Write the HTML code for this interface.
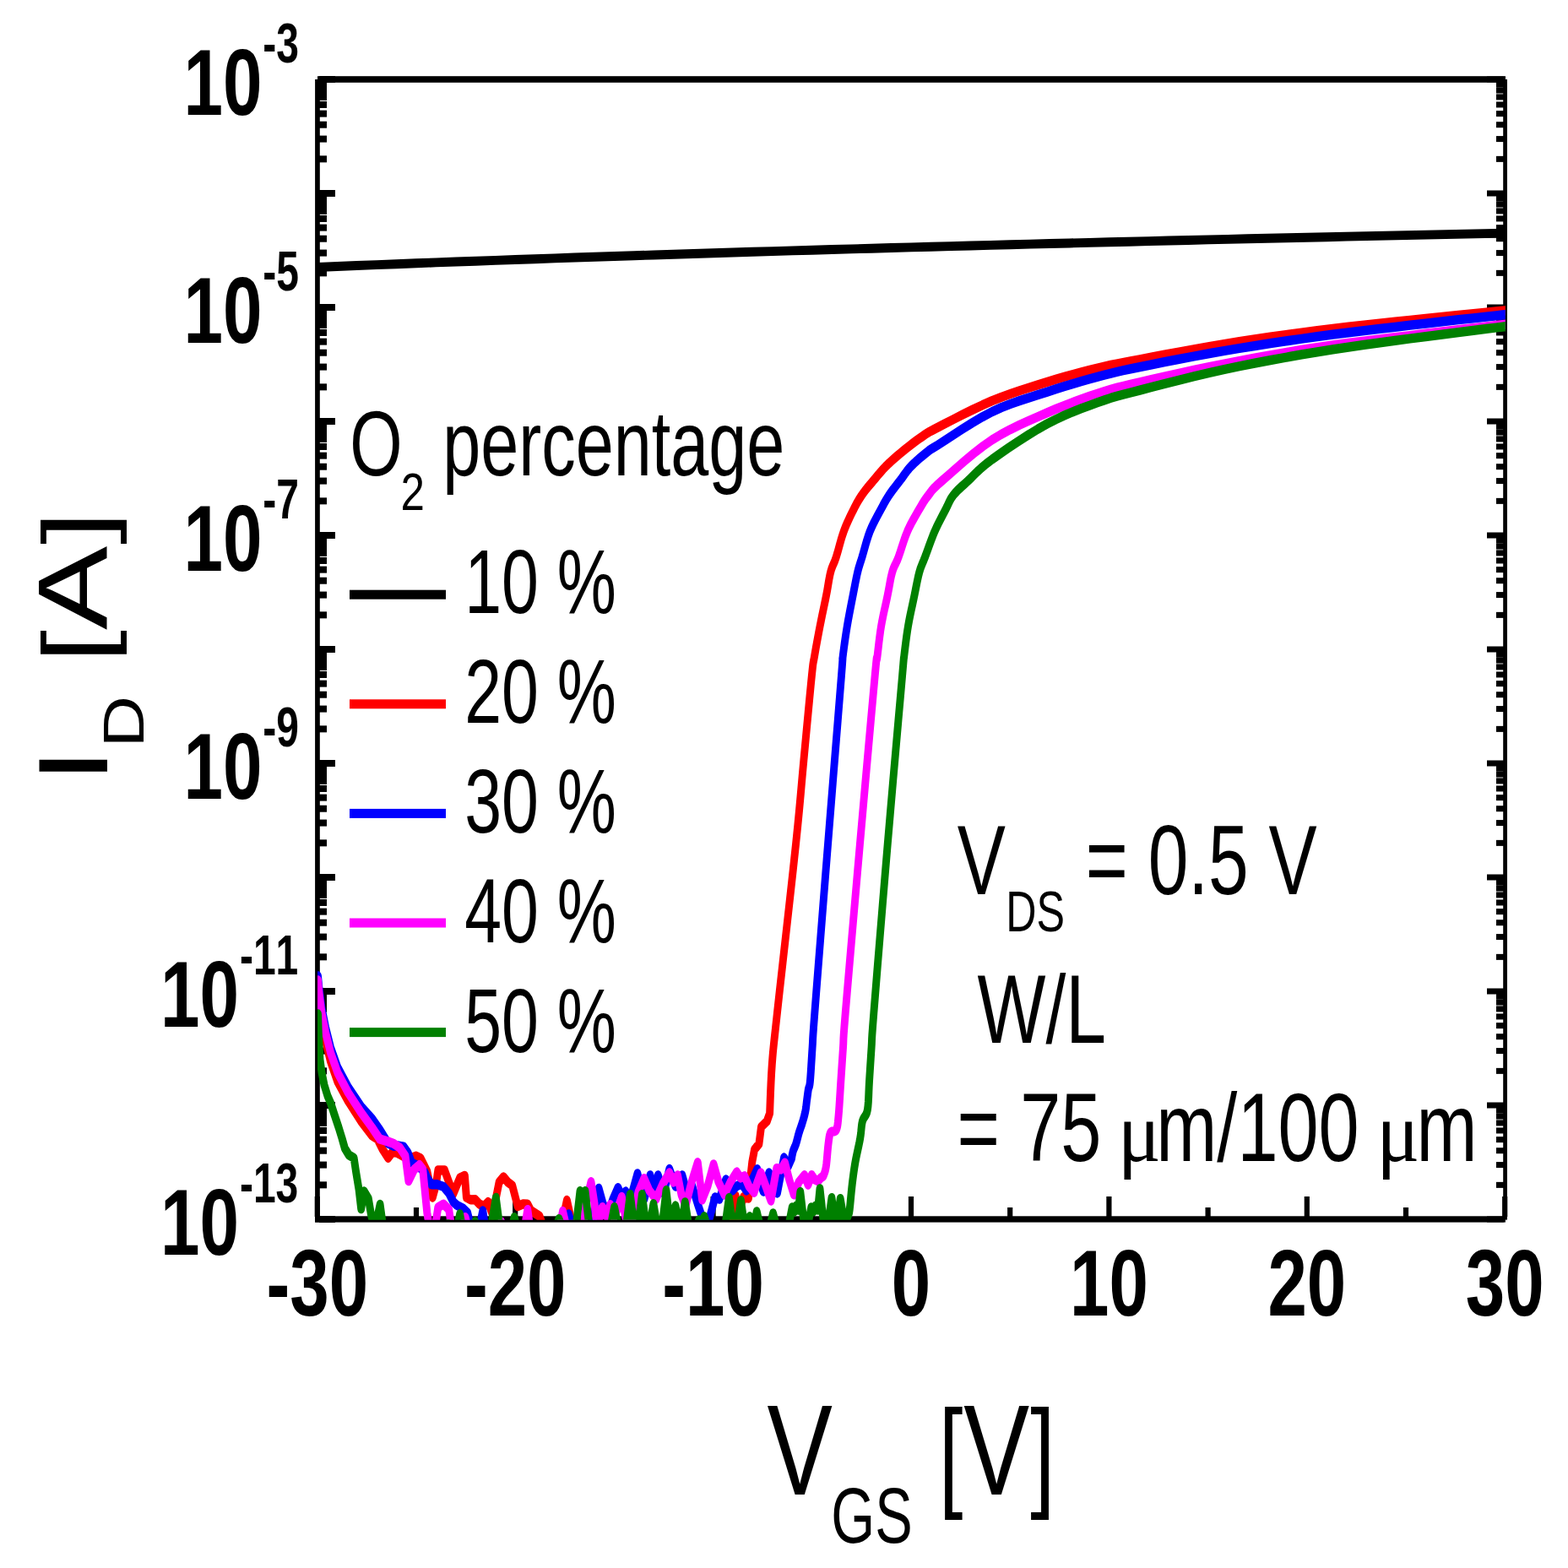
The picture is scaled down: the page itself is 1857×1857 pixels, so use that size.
<!DOCTYPE html><html><head><meta charset="utf-8"><title>ID-VGS transfer curves</title>
<style>html,body{margin:0;padding:0;background:#fff;}svg{display:block;}text{font-kerning:none;}</style></head><body>
<svg width="1857" height="1857" viewBox="0 0 1857 1857">
<rect width="100%" height="100%" fill="#fff"/>
<g fill="#000"><rect x="376" y="90.2" width="1407" height="7.6"/><rect x="373.1" y="94" width="5.7" height="1353.5"/><rect x="1780.2" y="94" width="4.8" height="1350.6"/><rect x="373.1" y="1440.3" width="1409.8" height="7.3"/><rect x="378" y="90.00" width="19" height="8.0"/><rect x="1761" y="90.50" width="20" height="7.0"/><rect x="378" y="184.36" width="9" height="8.0"/><rect x="1772" y="184.86" width="9" height="7.0"/><rect x="378" y="160.59" width="9" height="8.0"/><rect x="1772" y="161.09" width="9" height="7.0"/><rect x="378" y="143.72" width="9" height="8.0"/><rect x="1772" y="144.22" width="9" height="7.0"/><rect x="378" y="130.64" width="9" height="8.0"/><rect x="1772" y="131.14" width="9" height="7.0"/><rect x="378" y="119.95" width="9" height="8.0"/><rect x="1772" y="120.45" width="9" height="7.0"/><rect x="378" y="110.91" width="9" height="8.0"/><rect x="1772" y="111.41" width="9" height="7.0"/><rect x="378" y="103.08" width="9" height="8.0"/><rect x="1772" y="103.58" width="9" height="7.0"/><rect x="378" y="96.18" width="9" height="8.0"/><rect x="1772" y="96.68" width="9" height="7.0"/><rect x="378" y="225.00" width="19" height="8.0"/><rect x="1761" y="225.50" width="20" height="7.0"/><rect x="378" y="319.36" width="9" height="8.0"/><rect x="1772" y="319.86" width="9" height="7.0"/><rect x="378" y="295.59" width="9" height="8.0"/><rect x="1772" y="296.09" width="9" height="7.0"/><rect x="378" y="278.72" width="9" height="8.0"/><rect x="1772" y="279.22" width="9" height="7.0"/><rect x="378" y="265.64" width="9" height="8.0"/><rect x="1772" y="266.14" width="9" height="7.0"/><rect x="378" y="254.95" width="9" height="8.0"/><rect x="1772" y="255.45" width="9" height="7.0"/><rect x="378" y="245.91" width="9" height="8.0"/><rect x="1772" y="246.41" width="9" height="7.0"/><rect x="378" y="238.08" width="9" height="8.0"/><rect x="1772" y="238.58" width="9" height="7.0"/><rect x="378" y="231.18" width="9" height="8.0"/><rect x="1772" y="231.68" width="9" height="7.0"/><rect x="378" y="360.00" width="19" height="8.0"/><rect x="1761" y="360.50" width="20" height="7.0"/><rect x="378" y="454.36" width="9" height="8.0"/><rect x="1772" y="454.86" width="9" height="7.0"/><rect x="378" y="430.59" width="9" height="8.0"/><rect x="1772" y="431.09" width="9" height="7.0"/><rect x="378" y="413.72" width="9" height="8.0"/><rect x="1772" y="414.22" width="9" height="7.0"/><rect x="378" y="400.64" width="9" height="8.0"/><rect x="1772" y="401.14" width="9" height="7.0"/><rect x="378" y="389.95" width="9" height="8.0"/><rect x="1772" y="390.45" width="9" height="7.0"/><rect x="378" y="380.91" width="9" height="8.0"/><rect x="1772" y="381.41" width="9" height="7.0"/><rect x="378" y="373.08" width="9" height="8.0"/><rect x="1772" y="373.58" width="9" height="7.0"/><rect x="378" y="366.18" width="9" height="8.0"/><rect x="1772" y="366.68" width="9" height="7.0"/><rect x="378" y="495.00" width="19" height="8.0"/><rect x="1761" y="495.50" width="20" height="7.0"/><rect x="378" y="589.36" width="9" height="8.0"/><rect x="1772" y="589.86" width="9" height="7.0"/><rect x="378" y="565.59" width="9" height="8.0"/><rect x="1772" y="566.09" width="9" height="7.0"/><rect x="378" y="548.72" width="9" height="8.0"/><rect x="1772" y="549.22" width="9" height="7.0"/><rect x="378" y="535.64" width="9" height="8.0"/><rect x="1772" y="536.14" width="9" height="7.0"/><rect x="378" y="524.95" width="9" height="8.0"/><rect x="1772" y="525.45" width="9" height="7.0"/><rect x="378" y="515.91" width="9" height="8.0"/><rect x="1772" y="516.41" width="9" height="7.0"/><rect x="378" y="508.08" width="9" height="8.0"/><rect x="1772" y="508.58" width="9" height="7.0"/><rect x="378" y="501.18" width="9" height="8.0"/><rect x="1772" y="501.68" width="9" height="7.0"/><rect x="378" y="630.00" width="19" height="8.0"/><rect x="1761" y="630.50" width="20" height="7.0"/><rect x="378" y="724.36" width="9" height="8.0"/><rect x="1772" y="724.86" width="9" height="7.0"/><rect x="378" y="700.59" width="9" height="8.0"/><rect x="1772" y="701.09" width="9" height="7.0"/><rect x="378" y="683.72" width="9" height="8.0"/><rect x="1772" y="684.22" width="9" height="7.0"/><rect x="378" y="670.64" width="9" height="8.0"/><rect x="1772" y="671.14" width="9" height="7.0"/><rect x="378" y="659.95" width="9" height="8.0"/><rect x="1772" y="660.45" width="9" height="7.0"/><rect x="378" y="650.91" width="9" height="8.0"/><rect x="1772" y="651.41" width="9" height="7.0"/><rect x="378" y="643.08" width="9" height="8.0"/><rect x="1772" y="643.58" width="9" height="7.0"/><rect x="378" y="636.18" width="9" height="8.0"/><rect x="1772" y="636.68" width="9" height="7.0"/><rect x="378" y="765.00" width="19" height="8.0"/><rect x="1761" y="765.50" width="20" height="7.0"/><rect x="378" y="859.36" width="9" height="8.0"/><rect x="1772" y="859.86" width="9" height="7.0"/><rect x="378" y="835.59" width="9" height="8.0"/><rect x="1772" y="836.09" width="9" height="7.0"/><rect x="378" y="818.72" width="9" height="8.0"/><rect x="1772" y="819.22" width="9" height="7.0"/><rect x="378" y="805.64" width="9" height="8.0"/><rect x="1772" y="806.14" width="9" height="7.0"/><rect x="378" y="794.95" width="9" height="8.0"/><rect x="1772" y="795.45" width="9" height="7.0"/><rect x="378" y="785.91" width="9" height="8.0"/><rect x="1772" y="786.41" width="9" height="7.0"/><rect x="378" y="778.08" width="9" height="8.0"/><rect x="1772" y="778.58" width="9" height="7.0"/><rect x="378" y="771.18" width="9" height="8.0"/><rect x="1772" y="771.68" width="9" height="7.0"/><rect x="378" y="900.00" width="19" height="8.0"/><rect x="1761" y="900.50" width="20" height="7.0"/><rect x="378" y="994.36" width="9" height="8.0"/><rect x="1772" y="994.86" width="9" height="7.0"/><rect x="378" y="970.59" width="9" height="8.0"/><rect x="1772" y="971.09" width="9" height="7.0"/><rect x="378" y="953.72" width="9" height="8.0"/><rect x="1772" y="954.22" width="9" height="7.0"/><rect x="378" y="940.64" width="9" height="8.0"/><rect x="1772" y="941.14" width="9" height="7.0"/><rect x="378" y="929.95" width="9" height="8.0"/><rect x="1772" y="930.45" width="9" height="7.0"/><rect x="378" y="920.91" width="9" height="8.0"/><rect x="1772" y="921.41" width="9" height="7.0"/><rect x="378" y="913.08" width="9" height="8.0"/><rect x="1772" y="913.58" width="9" height="7.0"/><rect x="378" y="906.18" width="9" height="8.0"/><rect x="1772" y="906.68" width="9" height="7.0"/><rect x="378" y="1035.00" width="19" height="8.0"/><rect x="1761" y="1035.50" width="20" height="7.0"/><rect x="378" y="1129.36" width="9" height="8.0"/><rect x="1772" y="1129.86" width="9" height="7.0"/><rect x="378" y="1105.59" width="9" height="8.0"/><rect x="1772" y="1106.09" width="9" height="7.0"/><rect x="378" y="1088.72" width="9" height="8.0"/><rect x="1772" y="1089.22" width="9" height="7.0"/><rect x="378" y="1075.64" width="9" height="8.0"/><rect x="1772" y="1076.14" width="9" height="7.0"/><rect x="378" y="1064.95" width="9" height="8.0"/><rect x="1772" y="1065.45" width="9" height="7.0"/><rect x="378" y="1055.91" width="9" height="8.0"/><rect x="1772" y="1056.41" width="9" height="7.0"/><rect x="378" y="1048.08" width="9" height="8.0"/><rect x="1772" y="1048.58" width="9" height="7.0"/><rect x="378" y="1041.18" width="9" height="8.0"/><rect x="1772" y="1041.68" width="9" height="7.0"/><rect x="378" y="1170.00" width="19" height="8.0"/><rect x="1761" y="1170.50" width="20" height="7.0"/><rect x="378" y="1264.36" width="9" height="8.0"/><rect x="1772" y="1264.86" width="9" height="7.0"/><rect x="378" y="1240.59" width="9" height="8.0"/><rect x="1772" y="1241.09" width="9" height="7.0"/><rect x="378" y="1223.72" width="9" height="8.0"/><rect x="1772" y="1224.22" width="9" height="7.0"/><rect x="378" y="1210.64" width="9" height="8.0"/><rect x="1772" y="1211.14" width="9" height="7.0"/><rect x="378" y="1199.95" width="9" height="8.0"/><rect x="1772" y="1200.45" width="9" height="7.0"/><rect x="378" y="1190.91" width="9" height="8.0"/><rect x="1772" y="1191.41" width="9" height="7.0"/><rect x="378" y="1183.08" width="9" height="8.0"/><rect x="1772" y="1183.58" width="9" height="7.0"/><rect x="378" y="1176.18" width="9" height="8.0"/><rect x="1772" y="1176.68" width="9" height="7.0"/><rect x="378" y="1305.00" width="19" height="8.0"/><rect x="1761" y="1305.50" width="20" height="7.0"/><rect x="378" y="1399.36" width="9" height="8.0"/><rect x="1772" y="1399.86" width="9" height="7.0"/><rect x="378" y="1375.59" width="9" height="8.0"/><rect x="1772" y="1376.09" width="9" height="7.0"/><rect x="378" y="1358.72" width="9" height="8.0"/><rect x="1772" y="1359.22" width="9" height="7.0"/><rect x="378" y="1345.64" width="9" height="8.0"/><rect x="1772" y="1346.14" width="9" height="7.0"/><rect x="378" y="1334.95" width="9" height="8.0"/><rect x="1772" y="1335.45" width="9" height="7.0"/><rect x="378" y="1325.91" width="9" height="8.0"/><rect x="1772" y="1326.41" width="9" height="7.0"/><rect x="378" y="1318.08" width="9" height="8.0"/><rect x="1772" y="1318.58" width="9" height="7.0"/><rect x="378" y="1311.18" width="9" height="8.0"/><rect x="1772" y="1311.68" width="9" height="7.0"/><rect x="378" y="1440.00" width="19" height="8.0"/><rect x="1761" y="1440.50" width="20" height="7.0"/><rect x="372.70" y="1417" width="6.2" height="24"/><rect x="489.90" y="1430" width="6.2" height="11"/><rect x="607.10" y="1417" width="6.2" height="24"/><rect x="724.30" y="1430" width="6.2" height="11"/><rect x="841.50" y="1417" width="6.2" height="24"/><rect x="958.70" y="1430" width="6.2" height="11"/><rect x="1075.90" y="1417" width="6.2" height="24"/><rect x="1193.10" y="1430" width="6.2" height="11"/><rect x="1310.30" y="1417" width="6.2" height="24"/><rect x="1427.50" y="1430" width="6.2" height="11"/><rect x="1544.70" y="1417" width="6.2" height="24"/><rect x="1661.90" y="1430" width="6.2" height="11"/><rect x="1779.10" y="1417" width="6.2" height="24"/></g>
<defs><clipPath id="pc"><rect x="376" y="94" width="1406.8" height="1350.8"/></clipPath></defs>
<g clip-path="url(#pc)"><g transform="scale(0.7900 1)" fill="none" stroke-width="11.30" stroke-linejoin="round" stroke-linecap="round">
<path stroke="#000" stroke-width="10.9" d="M475.70 316.46 L505.37 315.50 L535.04 314.55 L564.71 313.62 L594.38 312.71 L624.05 311.81 L653.72 310.92 L683.39 310.05 L713.06 309.19 L742.73 308.34 L772.41 307.51 L802.08 306.68 L831.75 305.87 L861.42 305.07 L891.09 304.28 L920.76 303.50 L950.43 302.73 L980.10 301.97 L1009.77 301.22 L1039.44 300.48 L1069.11 299.75 L1098.78 299.02 L1128.46 298.31 L1158.13 297.60 L1187.80 296.91 L1217.47 296.22 L1247.14 295.54 L1276.81 294.87 L1306.48 294.20 L1336.15 293.54 L1365.82 292.89 L1395.49 292.25 L1425.16 291.61 L1454.84 290.98 L1484.51 290.36 L1514.18 289.74 L1543.85 289.13 L1573.52 288.53 L1603.19 287.93 L1632.86 287.34 L1662.53 286.76 L1692.20 286.18 L1721.87 285.60 L1751.54 285.03 L1781.22 284.47 L1810.89 283.91 L1840.56 283.36 L1870.23 282.81 L1899.90 282.27 L1929.57 281.74 L1959.24 281.20 L1988.91 280.68 L2018.58 280.15 L2048.25 279.63 L2077.92 279.12 L2107.59 278.61 L2137.27 278.11 L2166.94 277.61 L2196.61 277.11 L2226.28 276.62 L2255.95 276.13"/>
<path stroke="#f00" d="M476.58 1172.00 L478.35 1186.00 L482.15 1209.00 L488.10 1233.00 L495.57 1257.00 L506.08 1281.00 L521.90 1304.00 L541.39 1328.00 L557.85 1345.00 L565.82 1349.00 L573.42 1361.00 L581.77 1371.30 L588.35 1364.50 L594.94 1365.00 L607.59 1370.70 L615.82 1371.70 L623.92 1369.20 L630.51 1371.70 L640.25 1387.20 L648.48 1418.10 L653.42 1404.00 L656.71 1385.90 L666.46 1385.90 L673.04 1400.10 L679.62 1413.70 L689.37 1395.10 L696.71 1392.40 L699.24 1418.10 L705.70 1420.90 L712.28 1420.70 L718.86 1426.10 L725.44 1428.40 L731.90 1423.50 L738.48 1438.70 L748.23 1400.10 L754.81 1393.80 L761.39 1400.10 L767.97 1404.00 L776.08 1428.60 L784.30 1425.80 L790.89 1426.10 L795.70 1433.60 L808.86 1440.30 L818.61 1462.00 L822.78 1462.00 L840.51 1462.00 L844.94 1440.00 L849.87 1421.40 L855.06 1440.00 L859.49 1462.00 L1088.61 1462.00 L1096.20 1455.00 L1100.63 1440.00 L1102.78 1416.50 L1105.06 1446.00 L1109.49 1430.00 L1114.68 1417.60 L1122.15 1419.00 L1124.18 1400.00 L1127.59 1376.00 L1131.01 1361.60 L1137.85 1354.80 L1141.14 1334.60 L1149.75 1327.90 L1153.92 1318.50 L1154.25 1312.23 L1154.65 1303.59 L1155.15 1293.34 L1155.76 1282.24 L1156.48 1271.08 L1157.34 1260.60 L1158.15 1252.27 L1158.85 1245.76 L1159.67 1239.18 L1160.83 1230.63 L1162.55 1218.20 L1165.06 1200.00 L1168.74 1173.58 L1173.48 1139.96 L1178.79 1102.46 L1184.15 1064.42 L1189.07 1029.16 L1193.04 1000.00 L1195.95 977.55 L1198.19 959.26 L1199.98 943.75 L1201.56 929.63 L1203.13 915.51 L1204.94 900.00 L1207.03 882.43 L1209.24 863.77 L1211.46 845.11 L1213.56 827.54 L1215.43 812.14 L1216.96 800.00 L1218.02 792.01 L1218.66 787.49 L1219.08 785.14 L1219.45 783.67 L1219.95 781.79 L1220.76 778.20 L1221.89 772.94 L1223.20 767.07 L1224.64 760.78 L1226.17 754.28 L1227.71 747.78 L1229.24 741.50 L1230.80 735.29 L1232.44 728.95 L1234.11 722.62 L1235.76 716.41 L1237.32 710.47 L1238.73 704.90 L1239.97 699.69 L1241.05 694.72 L1242.04 690.01 L1243.02 685.56 L1244.05 681.39 L1245.19 677.50 L1246.42 674.16 L1247.68 671.43 L1248.99 668.96 L1250.37 666.45 L1251.84 663.57 L1253.42 660.00 L1255.11 655.58 L1256.90 650.53 L1258.77 645.12 L1260.74 639.59 L1262.80 634.20 L1264.94 629.20 L1267.23 624.51 L1269.68 619.91 L1272.22 615.45 L1274.77 611.18 L1277.26 607.14 L1279.62 603.40 L1281.78 600.04 L1283.77 597.03 L1285.71 594.27 L1287.69 591.62 L1289.80 588.97 L1292.15 586.20 L1294.76 583.32 L1297.55 580.44 L1300.47 577.55 L1303.49 574.66 L1306.56 571.78 L1309.62 568.90 L1312.65 566.03 L1315.67 563.16 L1318.73 560.29 L1321.90 557.43 L1325.21 554.57 L1328.73 551.70 L1332.46 548.83 L1336.36 545.97 L1340.40 543.11 L1344.59 540.24 L1348.89 537.37 L1353.29 534.50 L1357.92 531.55 L1362.81 528.50 L1367.82 525.44 L1372.81 522.48 L1377.64 519.70 L1382.15 517.20 L1385.63 515.28 L1388.03 513.93 L1390.27 512.76 L1393.25 511.39 L1397.88 509.43 L1405.06 506.50 L1415.34 502.31 L1428.09 497.11 L1442.49 491.32 L1457.72 485.37 L1472.94 479.69 L1487.34 474.70 L1501.13 470.38 L1515.00 466.38 L1528.88 462.64 L1542.66 459.12 L1556.27 455.76 L1569.62 452.50 L1582.79 449.35 L1595.87 446.34 L1608.78 443.50 L1621.43 440.82 L1633.72 438.32 L1645.57 436.00 L1656.12 434.03 L1665.26 432.43 L1674.05 431.01 L1683.54 429.57 L1694.80 427.90 L1708.86 425.80 L1726.15 423.19 L1745.90 420.21 L1767.41 417.00 L1789.97 413.72 L1812.88 410.50 L1835.44 407.50 L1857.92 404.68 L1880.92 401.91 L1904.27 399.20 L1927.80 396.58 L1951.33 394.06 L1974.68 391.65 L1998.01 389.37 L2021.47 387.20 L2044.94 385.13 L2068.26 383.14 L2091.30 381.20 L2113.92 379.30 L2137.35 377.35 L2161.93 375.35 L2186.23 373.40 L2208.81 371.61 L2228.23 370.08 L2243.04 368.90 L2252.34 368.15 L2257.10 367.77 L2258.70 367.65 L2258.51 367.67 L2257.89 367.72 L2258.23 367.70"/>
<path stroke="#00f" d="M476.58 1156.00 L478.35 1170.00 L482.15 1193.50 L488.10 1217.00 L495.57 1240.50 L506.08 1264.00 L521.90 1287.50 L541.39 1310.50 L557.85 1325.00 L569.37 1338.00 L581.77 1354.00 L589.87 1357.30 L597.47 1357.00 L605.06 1358.00 L611.39 1365.00 L617.09 1377.00 L626.58 1380.70 L637.09 1388.60 L640.25 1394.80 L646.84 1402.80 L655.06 1402.60 L664.81 1405.40 L673.04 1413.10 L679.62 1423.40 L684.43 1427.10 L694.30 1431.30 L700.89 1436.30 L708.86 1462.00 L716.46 1462.00 L723.80 1433.90 L729.11 1462.00 L759.49 1462.00 L810.13 1462.00 L822.78 1462.00 L845.57 1462.00 L848.73 1445.00 L852.53 1438.00 L856.96 1450.00 L860.76 1462.00 L886.08 1462.00 L891.77 1430.00 L897.59 1407.30 L903.80 1425.00 L911.39 1438.00 L918.99 1420.00 L926.46 1406.60 L932.91 1418.00 L937.97 1411.00 L943.04 1425.00 L949.37 1408.00 L955.70 1389.80 L960.76 1410.00 L965.82 1420.00 L970.89 1405.00 L974.68 1391.80 L980.38 1415.00 L986.46 1391.80 L994.94 1413.00 L1003.54 1384.50 L1012.66 1405.00 L1022.66 1391.80 L1029.11 1410.00 L1037.34 1403.90 L1045.57 1425.00 L1051.90 1440.00 L1058.86 1458.00 L1064.56 1440.00 L1071.90 1418.00 L1078.48 1420.00 L1088.23 1397.00 L1098.10 1410.00 L1103.80 1405.00 L1112.03 1402.00 L1118.99 1410.00 L1127.22 1398.00 L1135.19 1384.70 L1139.24 1400.00 L1144.30 1411.00 L1152.91 1389.00 L1159.49 1405.00 L1165.19 1413.00 L1175.32 1371.00 L1181.65 1381.00 L1186.71 1371.90 L1186.93 1370.95 L1187.22 1369.64 L1187.58 1368.09 L1187.99 1366.41 L1188.46 1364.74 L1188.99 1363.20 L1189.59 1361.81 L1190.27 1360.49 L1191.00 1359.16 L1191.77 1357.78 L1192.54 1356.28 L1193.29 1354.60 L1194.01 1352.70 L1194.72 1350.62 L1195.44 1348.42 L1196.17 1346.16 L1196.92 1343.90 L1197.72 1341.70 L1198.58 1339.55 L1199.50 1337.40 L1200.45 1335.26 L1201.40 1333.11 L1202.31 1330.96 L1203.16 1328.80 L1203.97 1326.64 L1204.76 1324.47 L1205.52 1322.30 L1206.24 1320.13 L1206.89 1317.96 L1207.47 1315.80 L1207.95 1313.64 L1208.34 1311.49 L1208.67 1309.34 L1208.97 1307.20 L1209.28 1305.05 L1209.62 1302.90 L1209.99 1300.71 L1210.36 1298.46 L1210.74 1296.22 L1211.12 1294.03 L1211.50 1291.94 L1211.90 1290.00 L1212.30 1288.61 L1212.69 1287.81 L1213.09 1287.12 L1213.51 1286.04 L1213.95 1284.10 L1214.43 1280.80 L1214.95 1275.87 L1215.50 1269.64 L1216.08 1262.55 L1216.68 1255.02 L1217.27 1247.49 L1217.85 1240.40 L1218.23 1235.51 L1218.38 1232.84 L1218.53 1230.18 L1218.91 1225.29 L1219.74 1215.97 L1221.27 1200.00 L1223.62 1175.90 L1226.66 1145.16 L1230.15 1109.97 L1233.88 1072.58 L1237.61 1035.18 L1241.14 1000.00 L1244.70 964.60 L1248.54 926.73 L1252.38 888.86 L1255.98 853.47 L1259.07 823.02 L1261.39 800.00 L1262.73 786.23 L1263.25 780.09 L1263.26 778.89 L1263.08 779.97 L1263.03 780.63 L1263.42 778.20 L1264.23 772.94 L1265.19 767.07 L1266.29 760.78 L1267.48 754.28 L1268.73 747.78 L1270.00 741.50 L1271.35 735.29 L1272.82 728.95 L1274.34 722.62 L1275.87 716.41 L1277.36 710.47 L1278.73 704.90 L1280.00 699.69 L1281.20 694.72 L1282.35 690.01 L1283.47 685.56 L1284.58 681.39 L1285.70 677.50 L1286.75 674.16 L1287.72 671.43 L1288.68 668.96 L1289.70 666.45 L1290.88 663.57 L1292.28 660.00 L1293.90 655.58 L1295.69 650.53 L1297.62 645.12 L1299.69 639.59 L1301.88 634.20 L1304.18 629.20 L1306.69 624.51 L1309.43 619.91 L1312.30 615.45 L1315.18 611.18 L1317.95 607.14 L1320.51 603.40 L1322.77 600.04 L1324.82 597.03 L1326.76 594.27 L1328.71 591.62 L1330.77 588.97 L1333.04 586.20 L1335.55 583.32 L1338.22 580.44 L1341.00 577.55 L1343.83 574.66 L1346.68 571.78 L1349.49 568.90 L1352.18 566.03 L1354.77 563.16 L1357.37 560.29 L1360.09 557.43 L1363.04 554.57 L1366.33 551.70 L1370.16 548.72 L1374.50 545.59 L1379.06 542.46 L1383.58 539.48 L1387.78 536.78 L1391.39 534.50 L1393.54 533.12 L1394.25 532.63 L1394.65 532.42 L1395.85 531.89 L1398.95 530.45 L1405.06 527.50 L1414.81 522.56 L1427.41 516.03 L1441.91 508.57 L1457.37 500.90 L1472.83 493.68 L1487.34 487.60 L1501.13 482.68 L1515.00 478.38 L1528.88 474.53 L1542.66 470.99 L1556.27 467.59 L1569.62 464.20 L1582.79 460.82 L1595.87 457.58 L1608.78 454.49 L1621.43 451.56 L1633.72 448.81 L1645.57 446.25 L1656.12 444.03 L1665.26 442.18 L1674.05 440.50 L1683.54 438.80 L1694.80 436.90 L1708.86 434.60 L1726.15 431.82 L1745.90 428.70 L1767.41 425.38 L1789.97 421.98 L1812.88 418.64 L1835.44 415.50 L1857.92 412.52 L1880.92 409.59 L1904.27 406.72 L1927.80 403.93 L1951.33 401.24 L1974.68 398.65 L1998.01 396.19 L2021.47 393.84 L2044.94 391.58 L2068.26 389.41 L2091.30 387.28 L2113.92 385.20 L2137.35 383.06 L2161.93 380.87 L2186.23 378.73 L2208.81 376.77 L2228.23 375.09 L2243.04 373.80 L2252.34 373.00 L2257.10 372.60 L2258.70 372.49 L2258.51 372.53 L2257.89 372.61 L2258.23 372.60"/>
<path stroke="#f0f" d="M476.58 1161.00 L478.35 1175.50 L482.15 1199.20 L488.10 1222.90 L495.57 1246.60 L506.08 1270.30 L521.90 1294.00 L541.39 1317.70 L557.85 1335.50 L569.37 1349.00 L581.77 1352.00 L589.37 1354.10 L599.24 1359.20 L607.59 1369.00 L612.53 1398.70 L621.01 1385.00 L628.86 1379.60 L633.80 1384.60 L640.25 1436.30 L645.57 1462.00 L650.63 1462.00 L656.71 1429.90 L664.81 1426.10 L673.04 1432.40 L678.48 1462.00 L691.14 1462.00 L697.59 1441.60 L703.80 1462.00 L746.84 1462.00 L751.52 1446.80 L756.96 1462.00 L784.81 1462.00 L790.89 1432.60 L796.20 1462.00 L822.78 1462.00 L837.97 1462.00 L841.14 1445.00 L843.67 1434.40 L846.84 1445.00 L850.63 1462.00 L873.42 1462.00 L878.48 1425.00 L886.08 1399.60 L891.14 1425.00 L895.57 1458.00 L899.37 1440.00 L903.16 1429.60 L908.86 1440.00 L914.81 1426.70 L920.25 1442.00 L926.58 1430.00 L932.03 1417.50 L937.34 1440.00 L943.04 1458.00 L949.37 1440.00 L956.96 1412.00 L965.57 1395.60 L973.42 1410.00 L983.54 1420.00 L993.67 1402.00 L1003.54 1388.90 L1009.49 1400.00 L1015.82 1391.80 L1021.52 1415.00 L1027.85 1428.00 L1036.71 1400.00 L1045.95 1376.70 L1052.66 1421.00 L1060.76 1405.00 L1069.75 1378.80 L1077.22 1400.00 L1086.08 1415.00 L1094.94 1400.00 L1104.43 1388.00 L1110.13 1395.00 L1116.08 1392.80 L1122.78 1405.00 L1130.38 1412.30 L1135.44 1400.00 L1140.63 1389.00 L1148.10 1405.00 L1155.70 1422.00 L1164.30 1383.60 L1170.89 1385.00 L1176.58 1377.10 L1183.54 1398.00 L1190.25 1414.90 L1197.47 1400.00 L1205.95 1391.70 L1211.39 1403.10 L1216.84 1391.70 L1221.52 1397.00 L1226.33 1398.80 L1230.38 1395.00 L1234.18 1393.00 L1234.64 1391.96 L1235.29 1390.68 L1236.05 1389.09 L1236.86 1387.12 L1237.65 1384.71 L1238.35 1381.80 L1238.97 1378.06 L1239.55 1373.47 L1240.11 1368.44 L1240.66 1363.38 L1241.21 1358.70 L1241.77 1354.80 L1242.28 1351.66 L1242.72 1348.96 L1243.16 1346.62 L1243.68 1344.62 L1244.33 1342.90 L1245.19 1341.40 L1246.37 1340.41 L1247.83 1340.02 L1249.43 1339.91 L1251.03 1339.76 L1252.49 1339.23 L1253.67 1338.00 L1254.53 1336.25 L1255.19 1334.27 L1255.70 1331.91 L1256.14 1329.04 L1256.58 1325.52 L1257.09 1321.20 L1257.66 1315.83 L1258.23 1309.48 L1258.80 1302.48 L1259.37 1295.14 L1259.94 1287.81 L1260.51 1280.80 L1261.08 1274.07 L1261.65 1267.33 L1262.22 1260.60 L1262.78 1253.87 L1263.35 1247.13 L1263.92 1240.40 L1264.28 1235.51 L1264.38 1232.84 L1264.49 1230.18 L1264.84 1225.29 L1265.71 1215.97 L1267.34 1200.00 L1269.90 1175.90 L1273.21 1145.16 L1277.03 1109.97 L1281.12 1072.58 L1285.23 1035.18 L1289.11 1000.00 L1293.05 964.60 L1297.28 926.73 L1301.53 888.86 L1305.52 853.47 L1308.99 823.02 L1311.65 800.00 L1313.29 786.23 L1314.11 780.09 L1314.39 778.89 L1314.44 779.97 L1314.57 780.63 L1315.06 778.20 L1315.87 772.94 L1316.72 767.07 L1317.65 760.78 L1318.66 754.28 L1319.78 747.78 L1321.01 741.50 L1322.43 735.29 L1324.05 728.95 L1325.76 722.62 L1327.49 716.41 L1329.14 710.47 L1330.63 704.90 L1331.92 699.69 L1333.07 694.72 L1334.14 690.01 L1335.20 685.56 L1336.33 681.39 L1337.59 677.50 L1338.95 674.16 L1340.35 671.43 L1341.80 668.96 L1343.35 666.45 L1345.02 663.57 L1346.84 660.00 L1348.80 655.58 L1350.89 650.53 L1353.09 645.12 L1355.41 639.59 L1357.85 634.20 L1360.38 629.20 L1363.10 624.51 L1366.03 619.91 L1369.07 615.45 L1372.12 611.18 L1375.08 607.14 L1377.85 603.40 L1380.33 600.03 L1382.60 597.01 L1384.78 594.23 L1386.99 591.58 L1389.36 588.94 L1392.03 586.20 L1394.38 583.76 L1396.21 581.78 L1398.20 579.81 L1401.05 577.41 L1405.42 574.12 L1412.03 569.50 L1421.30 563.05 L1432.78 555.05 L1445.79 546.16 L1459.67 537.05 L1473.75 528.41 L1487.34 520.90 L1500.73 514.50 L1514.49 508.66 L1528.44 503.28 L1542.41 498.27 L1556.19 493.51 L1569.62 488.90 L1582.79 484.47 L1595.87 480.29 L1608.78 476.37 L1621.43 472.70 L1633.72 469.30 L1645.57 466.15 L1656.12 463.47 L1665.26 461.28 L1674.05 459.36 L1683.54 457.45 L1694.80 455.31 L1708.86 452.70 L1726.15 449.53 L1745.90 445.99 L1767.41 442.23 L1789.97 438.37 L1812.88 434.58 L1835.44 431.00 L1857.92 427.57 L1880.92 424.15 L1904.27 420.80 L1927.80 417.55 L1951.33 414.45 L1974.68 411.55 L1998.01 408.87 L2021.47 406.39 L2044.94 404.07 L2068.26 401.84 L2091.30 399.67 L2113.92 397.50 L2137.35 395.24 L2161.93 392.91 L2186.23 390.64 L2208.81 388.55 L2228.23 386.76 L2243.04 385.40 L2252.34 384.57 L2257.10 384.18 L2258.70 384.09 L2258.51 384.18 L2257.89 384.29 L2258.23 384.30"/>
<path stroke="#008000" d="M476.58 1201.00 L477.85 1230.00 L479.75 1255.00 L482.28 1270.00 L486.08 1285.00 L491.14 1298.00 L495.57 1306.00 L501.27 1320.00 L507.59 1335.00 L512.66 1348.00 L516.96 1360.00 L522.91 1367.80 L530.51 1371.30 L533.80 1388.50 L538.10 1409.20 L541.39 1431.60 L545.82 1410.90 L552.28 1419.50 L556.71 1440.20 L562.03 1455.00 L569.75 1426.40 L574.68 1455.00 L664.56 1462.00 L671.39 1449.30 L677.22 1462.00 L683.54 1462.00 L689.37 1437.70 L694.94 1462.00 L706.33 1462.00 L712.28 1446.80 L717.72 1462.00 L734.18 1462.00 L743.42 1418.40 L750.63 1462.00 L764.56 1462.00 L771.14 1441.60 L777.22 1462.00 L822.78 1458.00 L831.01 1458.00 L837.97 1443.60 L844.94 1458.00 L862.66 1458.00 L869.62 1410.60 L873.42 1415.60 L877.22 1410.60 L884.18 1458.00 L914.05 1458.00 L921.01 1429.60 L927.97 1458.00 L937.72 1458.00 L944.68 1414.60 L951.65 1458.00 L955.57 1458.00 L962.53 1414.60 L969.49 1458.00 L972.66 1458.00 L979.62 1425.70 L986.58 1458.00 L991.77 1458.00 L998.73 1409.70 L1005.70 1458.00 L1012.66 1428.00 L1019.62 1458.00 L1020.00 1458.00 L1026.96 1423.80 L1033.92 1458.00 L1040.76 1458.00 L1047.72 1445.00 L1051.71 1450.00 L1055.70 1440.70 L1062.66 1458.00 L1085.95 1458.00 L1092.91 1418.60 L1099.87 1458.00 L1103.67 1458.00 L1110.63 1421.80 L1117.34 1458.00 L1124.05 1440.70 L1129.24 1458.00 L1134.43 1434.80 L1141.39 1458.00 L1152.03 1458.00 L1158.99 1436.90 L1165.95 1458.00 L1180.63 1458.00 L1187.59 1429.90 L1190.63 1434.90 L1193.67 1428.00 L1196.71 1433.00 L1199.75 1411.60 L1206.71 1458.00 L1209.24 1458.00 L1216.20 1429.90 L1219.49 1434.90 L1222.78 1428.00 L1225.95 1433.00 L1229.11 1407.80 L1236.08 1458.00 L1239.87 1458.00 L1246.84 1418.60 L1253.29 1458.00 L1259.75 1419.60 L1266.33 1450.00 L1272.91 1436.50 L1273.02 1435.90 L1273.16 1435.24 L1273.33 1434.38 L1273.55 1433.14 L1273.83 1431.37 L1274.18 1428.90 L1274.61 1425.52 L1275.11 1421.33 L1275.67 1416.60 L1276.28 1411.61 L1276.93 1406.65 L1277.59 1402.00 L1278.27 1397.64 L1278.97 1393.34 L1279.70 1389.06 L1280.48 1384.77 L1281.34 1380.43 L1282.28 1376.00 L1283.38 1371.37 L1284.64 1366.56 L1285.97 1361.69 L1287.28 1356.90 L1288.48 1352.33 L1289.49 1348.10 L1290.23 1344.21 L1290.76 1340.55 L1291.18 1337.10 L1291.60 1333.85 L1292.14 1330.79 L1292.91 1327.90 L1293.99 1325.49 L1295.32 1323.65 L1296.76 1321.99 L1298.19 1320.14 L1299.48 1317.74 L1300.51 1314.40 L1301.23 1310.04 L1301.73 1304.94 L1302.10 1299.28 L1302.41 1293.25 L1302.74 1287.03 L1303.16 1280.80 L1303.67 1274.46 L1304.21 1267.84 L1304.76 1261.02 L1305.33 1254.12 L1305.89 1247.21 L1306.46 1240.40 L1306.82 1235.51 L1306.94 1232.84 L1307.07 1230.18 L1307.44 1225.29 L1308.30 1215.97 L1309.87 1200.00 L1312.32 1175.90 L1315.46 1145.16 L1319.09 1109.97 L1322.98 1072.58 L1326.90 1035.18 L1330.63 1000.00 L1334.46 964.60 L1338.60 926.73 L1342.78 888.86 L1346.71 853.47 L1350.10 823.02 L1352.66 800.00 L1354.17 786.23 L1354.81 780.09 L1354.91 778.89 L1354.80 779.97 L1354.78 780.63 L1355.19 778.20 L1355.97 772.94 L1356.86 767.07 L1357.86 760.78 L1358.95 754.28 L1360.13 747.78 L1361.39 741.50 L1362.81 735.29 L1364.39 728.95 L1366.07 722.62 L1367.76 716.41 L1369.39 710.47 L1370.89 704.90 L1372.22 699.69 L1373.46 694.72 L1374.63 690.01 L1375.79 685.56 L1376.97 681.39 L1378.23 677.50 L1379.49 674.16 L1380.70 671.43 L1381.95 668.96 L1383.29 666.45 L1384.81 663.57 L1386.58 660.00 L1388.64 655.58 L1390.95 650.53 L1393.43 645.12 L1396.02 639.59 L1398.65 634.20 L1401.27 629.20 L1403.95 624.51 L1406.77 619.90 L1409.63 615.43 L1412.45 611.16 L1415.13 607.13 L1417.59 603.40 L1419.68 600.06 L1421.43 597.09 L1423.05 594.37 L1424.73 591.77 L1426.69 589.19 L1429.11 586.50 L1431.91 583.84 L1434.90 581.32 L1438.16 578.82 L1441.77 576.19 L1445.81 573.30 L1450.38 570.00 L1455.11 566.40 L1459.86 562.63 L1465.05 558.59 L1471.08 554.20 L1478.38 549.37 L1487.34 544.00 L1498.51 537.73 L1511.65 530.57 L1526.04 522.96 L1540.98 515.36 L1555.75 508.22 L1569.62 502.00 L1582.79 496.69 L1595.87 491.92 L1608.78 487.61 L1621.43 483.68 L1633.72 480.06 L1645.57 476.65 L1656.12 473.72 L1665.26 471.37 L1674.05 469.33 L1683.54 467.29 L1694.80 464.98 L1708.86 462.10 L1726.15 458.54 L1745.90 454.50 L1767.41 450.18 L1789.97 445.78 L1812.88 441.49 L1835.44 437.50 L1857.92 433.77 L1880.92 430.15 L1904.27 426.63 L1927.80 423.23 L1951.33 419.97 L1974.68 416.85 L1998.01 413.90 L2021.47 411.11 L2044.94 408.45 L2068.26 405.89 L2091.30 403.42 L2113.92 401.00 L2137.35 398.53 L2161.93 396.02 L2186.23 393.58 L2208.81 391.35 L2228.23 389.45 L2243.04 388.00 L2252.34 387.10 L2257.10 386.68 L2258.70 386.59 L2258.51 386.67 L2257.89 386.79 L2258.23 386.80"/>
</g></g>
<g fill="#000"><text transform="translate(217.50 135.60) scale(0.7570 1)" font-size="110.50" font-weight="bold" font-family='"Liberation Sans", sans-serif'>10</text><text transform="translate(311.30 74.20) scale(0.7270 1)" font-size="66.00" font-weight="bold" font-family='"Liberation Sans", sans-serif'>-3</text><text transform="translate(217.50 405.60) scale(0.7570 1)" font-size="110.50" font-weight="bold" font-family='"Liberation Sans", sans-serif'>10</text><text transform="translate(311.30 344.20) scale(0.7270 1)" font-size="66.00" font-weight="bold" font-family='"Liberation Sans", sans-serif'>-5</text><text transform="translate(217.50 675.60) scale(0.7570 1)" font-size="110.50" font-weight="bold" font-family='"Liberation Sans", sans-serif'>10</text><text transform="translate(311.30 614.20) scale(0.7270 1)" font-size="66.00" font-weight="bold" font-family='"Liberation Sans", sans-serif'>-7</text><text transform="translate(217.50 945.60) scale(0.7570 1)" font-size="110.50" font-weight="bold" font-family='"Liberation Sans", sans-serif'>10</text><text transform="translate(311.30 884.20) scale(0.7270 1)" font-size="66.00" font-weight="bold" font-family='"Liberation Sans", sans-serif'>-9</text><text transform="translate(190.10 1215.60) scale(0.7570 1)" font-size="110.50" font-weight="bold" font-family='"Liberation Sans", sans-serif'>10</text><text transform="translate(283.90 1154.20) scale(0.7270 1)" font-size="66.00" font-weight="bold" font-family='"Liberation Sans", sans-serif'>-11</text><text transform="translate(190.10 1485.60) scale(0.7570 1)" font-size="110.50" font-weight="bold" font-family='"Liberation Sans", sans-serif'>10</text><text transform="translate(283.90 1424.20) scale(0.7270 1)" font-size="66.00" font-weight="bold" font-family='"Liberation Sans", sans-serif'>-13</text><text transform="translate(375.80 1557.70) scale(0.7520 1)" font-size="111.00" font-weight="bold" text-anchor="middle" font-family='"Liberation Sans", sans-serif'>-30</text><text transform="translate(610.20 1557.70) scale(0.7520 1)" font-size="111.00" font-weight="bold" text-anchor="middle" font-family='"Liberation Sans", sans-serif'>-20</text><text transform="translate(844.60 1557.70) scale(0.7520 1)" font-size="111.00" font-weight="bold" text-anchor="middle" font-family='"Liberation Sans", sans-serif'>-10</text><text transform="translate(1079.00 1557.70) scale(0.7520 1)" font-size="111.00" font-weight="bold" text-anchor="middle" font-family='"Liberation Sans", sans-serif'>0</text><text transform="translate(1313.40 1557.70) scale(0.7520 1)" font-size="111.00" font-weight="bold" text-anchor="middle" font-family='"Liberation Sans", sans-serif'>10</text><text transform="translate(1547.80 1557.70) scale(0.7520 1)" font-size="111.00" font-weight="bold" text-anchor="middle" font-family='"Liberation Sans", sans-serif'>20</text><text transform="translate(1782.20 1557.70) scale(0.7520 1)" font-size="111.00" font-weight="bold" text-anchor="middle" font-family='"Liberation Sans", sans-serif'>30</text></g>
<g fill="#000"><text transform="translate(127 927.5) rotate(-90) scale(1.281 1)" font-size="116.3" font-family='"Liberation Sans", sans-serif'>I</text><text transform="translate(169.6 885.5) rotate(-90) scale(1.233 1)" font-size="69.2" font-family='"Liberation Sans", sans-serif'>D</text><text transform="translate(127 784.8) rotate(-90) scale(1.288 1)" font-size="108.6" font-family='"Liberation Sans", sans-serif'>[</text><text transform="translate(127 746.0) rotate(-90) scale(1.281 1)" font-size="116.3" font-family='"Liberation Sans", sans-serif'>A</text><text transform="translate(127 645.1) rotate(-90) scale(1.302 1)" font-size="108.6" font-family='"Liberation Sans", sans-serif'>]</text><text transform="translate(908.59 1769.70) scale(0.7643 1)" font-size="151.90" font-family='"Liberation Sans", sans-serif'>V</text><text transform="translate(984.34 1827.00) scale(0.7234 1)" font-size="92.20" font-family='"Liberation Sans", sans-serif'>GS</text><text transform="translate(1111.70 1769.70) scale(0.7200 1)" font-size="143.30" font-family='"Liberation Sans", sans-serif'>[</text><text transform="translate(1141.20 1769.70) scale(0.7690 1)" font-size="151.90" font-family='"Liberation Sans", sans-serif'>V</text><text transform="translate(1220.20 1769.70) scale(0.7340 1)" font-size="143.30" font-family='"Liberation Sans", sans-serif'>]</text></g>
<g fill="#000"><text transform="translate(414.20 563.20) scale(0.7362 1)" font-size="108.80" font-family='"Liberation Sans", sans-serif'>O</text><text transform="translate(474.43 603.60) scale(0.8009 1)" font-size="63.80" font-family='"Liberation Sans", sans-serif'>2</text><text transform="translate(524.18 563.00) scale(0.7462 1)" font-size="108.50" font-family='"Liberation Sans", sans-serif'>percentage</text><rect x="414" y="698.70" width="114" height="11" fill="#000"/><text transform="translate(550.30 726.20) scale(0.7364 1)" font-size="107.00" font-family='"Liberation Sans", sans-serif'>10 %</text><rect x="414" y="828.30" width="114" height="11" fill="#f00"/><text transform="translate(550.30 856.10) scale(0.7364 1)" font-size="107.00" font-family='"Liberation Sans", sans-serif'>20 %</text><rect x="414" y="957.90" width="114" height="11" fill="#00f"/><text transform="translate(550.30 986.00) scale(0.7364 1)" font-size="107.00" font-family='"Liberation Sans", sans-serif'>30 %</text><rect x="414" y="1087.50" width="114" height="11" fill="#f0f"/><text transform="translate(550.30 1115.90) scale(0.7364 1)" font-size="107.00" font-family='"Liberation Sans", sans-serif'>40 %</text><rect x="414" y="1217.10" width="114" height="11" fill="#008000"/><text transform="translate(550.30 1245.80) scale(0.7364 1)" font-size="107.00" font-family='"Liberation Sans", sans-serif'>50 %</text></g>
<g fill="#000"><text transform="translate(1133.80 1059.00) scale(0.7369 1)" font-size="116.30" font-family='"Liberation Sans", sans-serif'>V</text><text transform="translate(1191.20 1103.20) scale(0.7302 1)" font-size="68.75" font-family='"Liberation Sans", sans-serif'>DS</text><text transform="translate(1285.80 1059.00) scale(0.7369 1)" font-size="116.30" font-family='"Liberation Sans", sans-serif'>= 0.5 V</text><text transform="translate(1157.50 1234.90) scale(0.7435 1)" font-size="115.40" font-family='"Liberation Sans", sans-serif'>W/L</text><text transform="translate(1133.60 1375.00) scale(0.7535 1)" font-size="114.80" font-family='"Liberation Sans", sans-serif'>= 75</text><text transform="translate(1323.76 1375.00) scale(0.9446 1)" font-size="101.00" font-family='"Liberation Serif", serif'>μ</text><text transform="translate(1369.30 1375.00) scale(0.7535 1)" font-size="114.80" font-family='"Liberation Sans", sans-serif'>m/100</text><text transform="translate(1630.26 1375.00) scale(0.9446 1)" font-size="101.00" font-family='"Liberation Serif", serif'>μ</text><text transform="translate(1677.60 1375.00) scale(0.7535 1)" font-size="114.80" font-family='"Liberation Sans", sans-serif'>m</text></g>
</svg></body></html>
